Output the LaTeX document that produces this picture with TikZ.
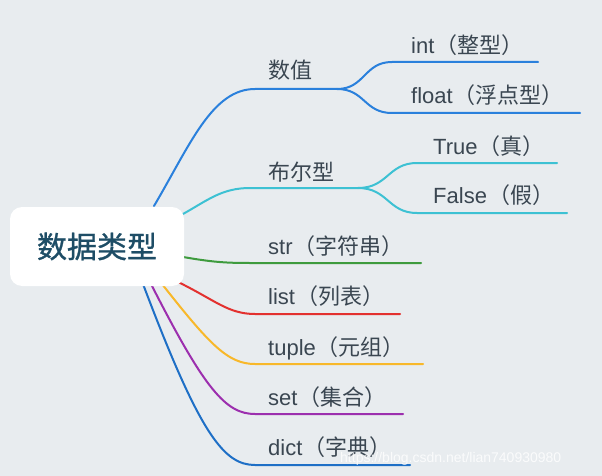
\documentclass[tikz,border=0pt]{standalone}
\usepackage{fontspec}
\setmainfont{Noto Sans CJK SC}
\newfontfamily\lat{Liberation Sans}
\newfontfamily\rootfont[FakeBold=1]{Noto Sans CJK SC}
\newfontfamily\wmfont{Liberation Sans}
\newcommand{\lp}{\kern1pt（}
\definecolor{bgc}{HTML}{E8ECEF}
\definecolor{txtc}{HTML}{3A4651}
\definecolor{roottxt}{HTML}{1E4D66}
\definecolor{cblue}{HTML}{2A80DC}
\definecolor{ccyan}{HTML}{3DC1D3}
\definecolor{cgreen}{HTML}{3E9B3E}
\definecolor{cred}{HTML}{E3312F}
\definecolor{cyellow}{HTML}{F8B82A}
\definecolor{cpurple}{HTML}{9C2FAE}
\definecolor{cblue2}{HTML}{1E6FC6}
\tikzset{
  branch/.style={line width=2pt, line cap=round},
  lbl/.style={anchor=base west, inner sep=0pt, text=txtc, font=\fontsize{22}{26}\selectfont},
  rootbox/.style={fill=white, rounded corners=12pt, minimum width=174pt, minimum height=79pt, inner sep=0pt,
    text=roottxt, font=\rootfont\fontsize{30}{36}\selectfont}
}
\begin{document}
\begin{tikzpicture}[x=1pt,y=-1pt]
\fill[bgc] (0,0) rectangle (602,476);
\useasboundingbox (0,0) rectangle (602,476);
% branch start points (under the root box)
\coordinate (s1) at (154,206);
\coordinate (s2) at (183,214);
\coordinate (s3) at (183,257);
\coordinate (s4) at (178,282);
\coordinate (s5) at (162,284);
\coordinate (s6) at (151,284);
\coordinate (s7) at (143,284);
% bends and ends
\coordinate (k1) at (255,89);  \coordinate (j1) at (337,89);
\coordinate (a1) at (392,62);  \coordinate (e1) at (538,62);
\coordinate (a2) at (392,113); \coordinate (e2) at (580,113);
\coordinate (k2) at (250,188); \coordinate (j2) at (358,188);
\coordinate (a3) at (417,163); \coordinate (e3) at (557,163);
\coordinate (a4) at (417,213); \coordinate (e4) at (567,213);
\coordinate (k3) at (250,263); \coordinate (e5) at (421,263);
\coordinate (k4) at (255,314); \coordinate (e6) at (400,314);
\coordinate (k5) at (255,364); \coordinate (e7) at (423,364);
\coordinate (k6) at (255,414); \coordinate (e8) at (403,414);
\coordinate (k7) at (255,465); \coordinate (e9) at (410,465);
% connectors
\draw[branch, cblue] (s1) .. controls (190,145) and (212,89) .. (k1) -- (j1);
\draw[branch, cblue] (j1) .. controls (365,89) and (364,62) .. (a1) -- (e1);
\draw[branch, cblue] (j1) .. controls (365,89) and (364,113) .. (a2) -- (e2);
\draw[branch, ccyan] (s2) .. controls (208,200) and (222,188) .. (k2) -- (j2);
\draw[branch, ccyan] (j2) .. controls (388,188) and (388,163) .. (a3) -- (e3);
\draw[branch, ccyan] (j2) .. controls (388,188) and (388,213) .. (a4) -- (e4);
\draw[branch, cgreen] (s3) .. controls (212,262) and (225,263) .. (k3) -- (e5);
\draw[branch, cred] (s4) .. controls (215,300) and (228,314) .. (k4) -- (e6);
\draw[branch, cyellow] (s5) .. controls (210,345) and (228,364) .. (k5) -- (e7);
\draw[branch, cpurple] (s6) .. controls (205,390) and (226,414) .. (k6) -- (e8);
\draw[branch, cblue2] (s7) .. controls (200,435) and (224,465) .. (k7) -- (e9);
% root
\node[rootbox] (root) at (97,246.5) {数据类型};
% labels
\node[lbl] (n1) at (268,79) {数值};
\node[lbl] (n11) at (411,54) {{\lat int}\lp 整型）};
\node[lbl] (n12) at (411,104) {{\lat float}\lp 浮点型）};
\node[lbl] (n2) at (268,180) {布尔型};
\node[lbl] (n21) at (433,154) {{\lat True}\lp 真）};
\node[lbl] (n22) at (433,203) {{\lat False}\lp 假）};
\node[lbl] (n3) at (268,254) {{\lat str}\lp 字符串）};
\node[lbl] (n4) at (268,304) {{\lat list}\lp 列表）};
\node[lbl] (n5) at (268,355) {{\lat tuple}\lp 元组）};
\node[lbl] (n6) at (268,405) {{\lat set}\lp 集合）};
\node[lbl] (n7) at (268,455) {{\lat dict}\lp 字典）};
% watermark
\node[anchor=base west, inner sep=0pt, text=white, opacity=0.8, font=\wmfont\fontsize{14}{16}\selectfont] (wm) at (340,462) {https://blog.csdn.net/lian740930980};
\end{tikzpicture}
\end{document}
